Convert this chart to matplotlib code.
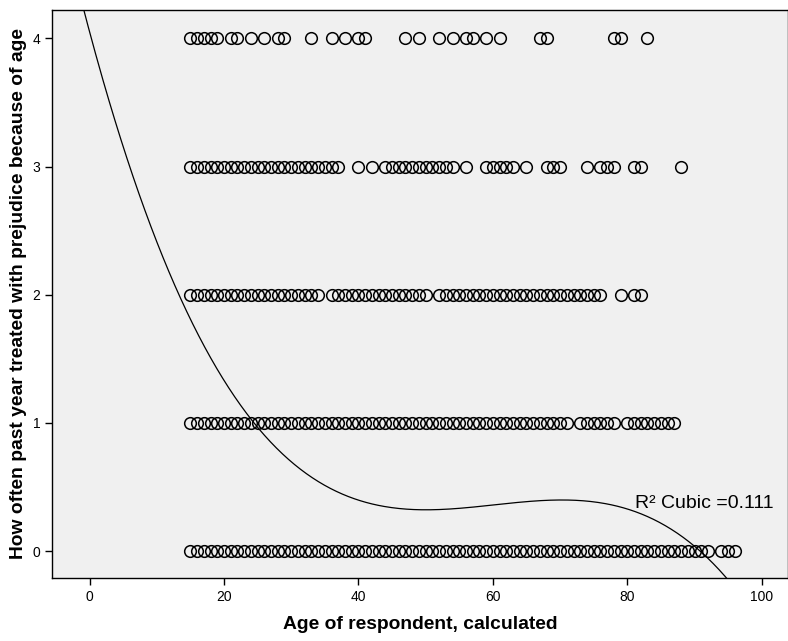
import numpy as np
import matplotlib.pyplot as plt

plt.rcParams['font.family'] = ['Liberation Sans', 'DejaVu Sans']

# distinct ages (years) at each answer level
ages_0 = [15, 16, 17, 18, 19, 20, 21, 22, 23, 24, 25, 26, 27, 28, 29, 30, 31, 32,
          33, 34, 35, 36, 37, 38, 39, 40, 41, 42, 43, 44, 45, 46, 47, 48, 49, 50,
          51, 52, 53, 54, 55, 56, 57, 58, 59, 60, 61, 62, 63, 64, 65, 66, 67, 68,
          69, 70, 71, 72, 73, 74, 75, 76, 77, 78, 79, 80, 81, 82, 83, 84, 85, 86,
          87, 88, 89, 90, 91, 92, 94, 95, 96]
ages_1 = [15, 16, 17, 18, 19, 20, 21, 22, 23, 24, 25, 26, 27, 28, 29, 30, 31, 32,
          33, 34, 35, 36, 37, 38, 39, 40, 41, 42, 43, 44, 45, 46, 47, 48, 49, 50,
          51, 52, 53, 54, 55, 56, 57, 58, 59, 60, 61, 62, 63, 64, 65, 66, 67, 68,
          69, 70, 71, 73, 74, 75, 76, 77, 78, 80, 81, 82, 83, 84, 85, 86, 87]
ages_2 = [15, 16, 17, 18, 19, 20, 21, 22, 23, 24, 25, 26, 27, 28, 29, 30, 31, 32,
          33, 34, 36, 37, 38, 39, 40, 41, 42, 43, 44, 45, 46, 47, 48, 49, 50,
          52, 53, 54, 55, 56, 57, 58, 59, 60, 61, 62, 63, 64, 65, 66, 67, 68,
          69, 70, 71, 72, 73, 74, 75, 76, 79, 81, 82]
ages_3 = [15, 16, 17, 18, 19, 20, 21, 22, 23, 24, 25, 26, 27, 28, 29, 30, 31, 32,
          33, 34, 35, 36, 37, 40, 42, 44, 45, 46, 47, 48, 49, 50, 51, 52, 53, 54,
          56, 59, 60, 61, 62, 63, 65, 68, 69, 70, 74, 76, 77, 78, 81, 82, 88]
ages_4 = [15, 16, 17, 18, 19, 21, 22, 24, 26, 28, 29, 33, 36, 38, 40, 41, 47, 49,
          52, 54, 56, 57, 59, 61, 67, 68, 78, 79, 83]

levels = [0, 1, 2, 3, 4]
ages_by_level = [ages_0, ages_1, ages_2, ages_3, ages_4]

# cubic fit line, coefficients highest power first
cubic_coef = [-1.85346e-5, 0.00334503, -0.195547, 4.05319]
fit_label = "R\u00b2 Cubic =0.111"

x_ticks = [0, 20, 40, 60, 80, 100]
y_ticks = [0, 1, 2, 3, 4]

fig = plt.figure(figsize=(7.88, 6.41), dpi=100)
ax = fig.add_axes([0.066, 0.098, 0.934, 0.887])
ax.set_facecolor('#F0F0F0')

for lvl, ages in zip(levels, ages_by_level):
    ax.plot(ages, [lvl] * len(ages), linestyle='none', marker='o',
            markersize=8.4, markerfacecolor='none', markeredgecolor='black',
            markeredgewidth=1.1)

xs = np.linspace(-6, 105, 500)
ax.plot(xs, np.polyval(cubic_coef, xs), color='black', linewidth=0.9)

ax.text(81.2, 0.334, fit_label, fontsize=14, va='baseline', ha='left')

ax.set_xlim(-5.58, 103.9)
ax.set_ylim(-0.212, 4.225)
ax.set_xticks(x_ticks)
ax.set_yticks(y_ticks)
ax.tick_params(direction='out', length=5, width=1, labelsize=10, color='black')
for s in ax.spines.values():
    s.set_linewidth(1.0)
    s.set_color('black')

ax.set_xlabel("Age of respondent, calculated", fontsize=13.9,
              fontweight='bold', labelpad=9)
ax.set_ylabel("How often past year treated with prejudice because of age",
              fontsize=13.9, fontweight='bold', labelpad=4)

fig.savefig("out.png", dpi=100)
